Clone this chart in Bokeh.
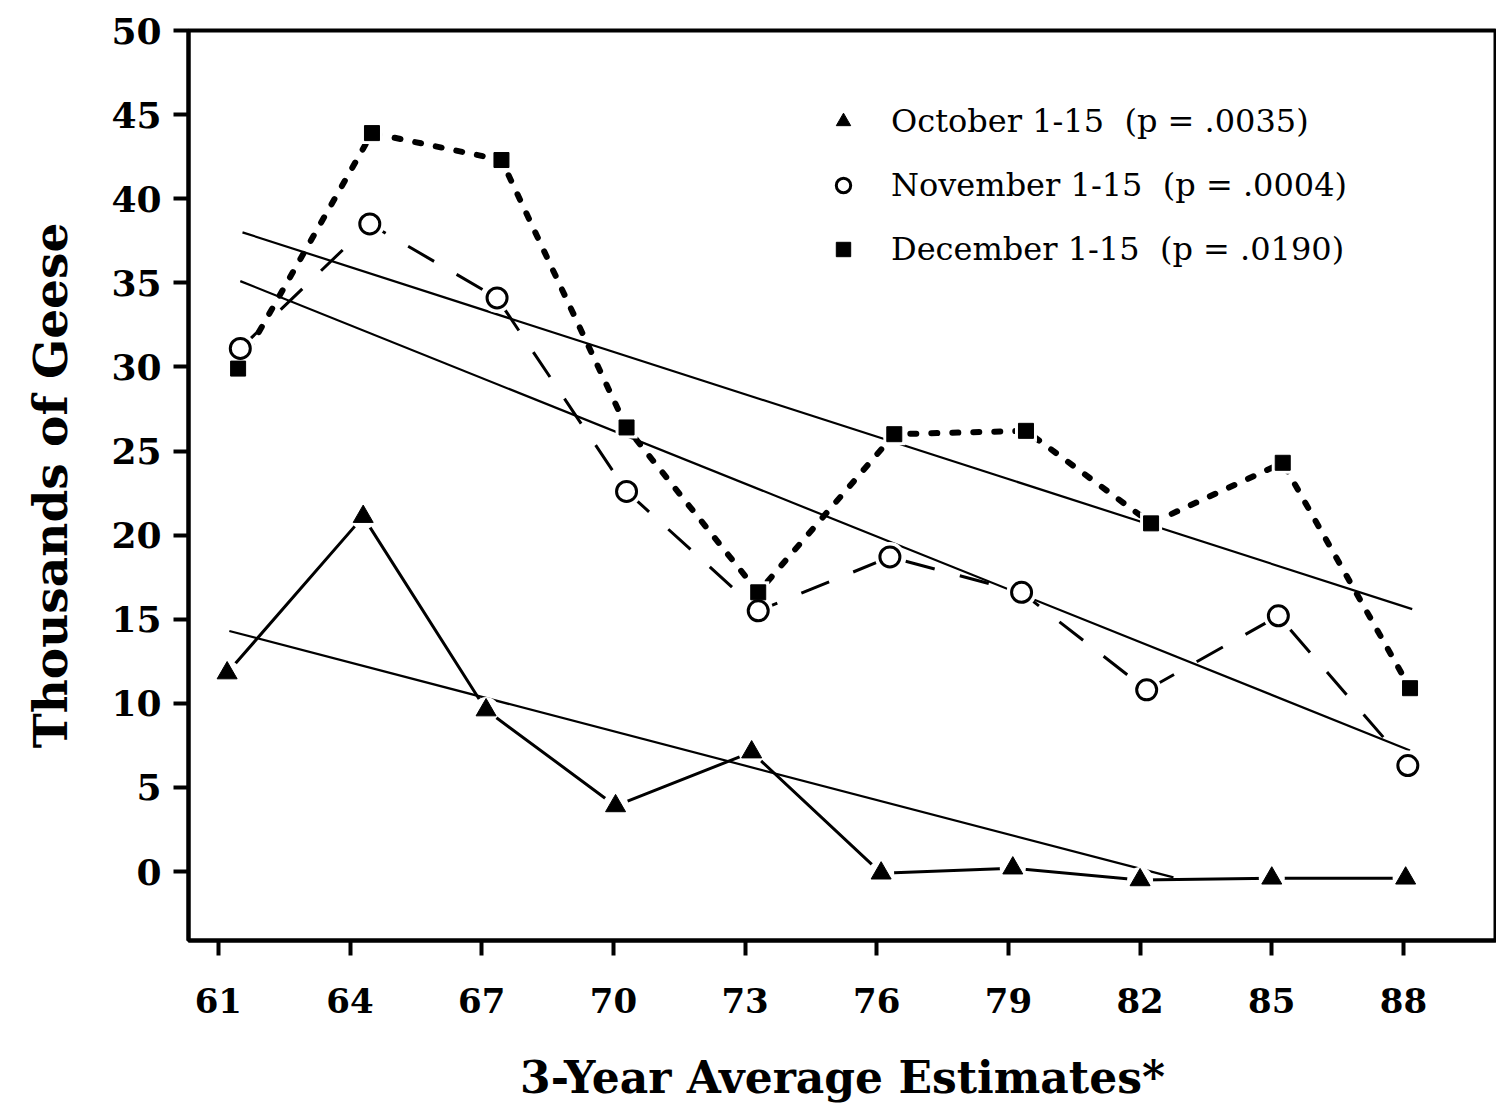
from bokeh.plotting import figure
from bokeh.models import Range1d, FixedTicker, Legend, LegendItem
from bokeh.embed import file_html
from bokeh.resources import INLINE

# ---- data ----
year_ticks = [61, 64, 67, 70, 73, 76, 79, 82, 85, 88]
y_ticks = [0, 5, 10, 15, 20, 25, 30, 35, 40, 45, 50]

oct_x = [61.2, 64.3, 67.1, 70.05, 73.15, 76.1, 79.1, 82.0, 85.0, 88.05]
oct_y = [11.8, 21.1, 9.6, 3.9, 7.1, -0.1, 0.2, -0.5, -0.4, -0.4]

nov_x = [61.5, 64.45, 67.35, 70.3, 73.3, 76.3, 79.3, 82.15, 85.15, 88.1]
nov_y = [31.1, 38.5, 34.1, 22.6, 15.5, 18.7, 16.6, 10.8, 15.2, 6.3]

dec_x = [61.45, 64.5, 67.45, 70.3, 73.3, 76.4, 79.4, 82.25, 85.25, 88.15]
dec_y = [29.9, 43.9, 42.3, 26.4, 16.6, 26.0, 26.2, 20.7, 24.3, 10.9]

# regression (trend) lines: end points
oct_trend_x = [61.25, 82.76]
oct_trend_y = [14.3, -0.35]
nov_trend_x = [61.5, 88.15]
nov_trend_y = [35.1, 7.2]
dec_trend_x = [61.55, 88.2]
dec_trend_y = [38.0, 15.6]

labels = ["October 1-15  (p = .0035)",
          "November 1-15  (p = .0004)",
          "December 1-15  (p = .0190)"]

# ---- figure ----
p = figure(width=1496, height=1106, output_backend="svg", toolbar_location=None,
           x_range=Range1d(60.32, 90.12), y_range=Range1d(-4.1, 50),
           min_border_left=188, min_border_right=0, min_border_top=30,
           min_border_bottom=166)
p.background_fill_color = "white"
p.border_fill_color = "white"
p.outline_line_color = "black"
p.outline_line_width = 4
p.xgrid.visible = False
p.ygrid.visible = False

for ax in (p.xaxis[0], p.yaxis[0]):
    ax.axis_line_width = 4
    ax.major_tick_line_width = 4
    ax.major_tick_in = 0
    ax.major_tick_out = 15
    ax.minor_tick_line_color = None
    ax.major_label_text_font = "DejaVu Serif"
    ax.major_label_text_font_style = "bold"
    ax.major_label_text_color = "black"
    ax.axis_label_text_font = "DejaVu Serif"
    ax.axis_label_text_font_style = "bold"
    ax.axis_label_text_color = "black"

p.xaxis.ticker = FixedTicker(ticks=year_ticks)
p.yaxis.ticker = FixedTicker(ticks=y_ticks)
p.xaxis.major_label_text_font_size = "34px"
p.yaxis.major_label_text_font_size = "36px"
p.xaxis.major_label_standoff = 32
p.yaxis.major_label_standoff = 12
p.xaxis.axis_label = "3-Year Average Estimates*"
p.yaxis.axis_label = "Thousands of Geese"
p.xaxis.axis_label_text_font_size = "44px"
p.yaxis.axis_label_text_font_size = "47px"
p.xaxis.axis_label_standoff = 36
p.yaxis.axis_label_standoff = 30

# trend lines
p.line(oct_trend_x, oct_trend_y, line_color="black", line_width=2.2)
p.line(nov_trend_x, nov_trend_y, line_color="black", line_width=2.2)
p.line(dec_trend_x, dec_trend_y, line_color="black", line_width=2.2)

# series lines
p.line(oct_x, oct_y, line_color="black", line_width=3)
p.line(nov_x, nov_y, line_color="black", line_width=3, line_dash="30 26")
p.line(dec_x, dec_y, line_color="black", line_width=6, line_dash="6 15",
       line_cap="round")

# white halos so the lines stop short of the markers
p.scatter(oct_x, oct_y, marker="circle", size=26, fill_color="white", line_color=None)
p.scatter(nov_x, nov_y, marker="circle", size=30, fill_color="white", line_color=None)
p.scatter(dec_x, dec_y, marker="square", size=22, fill_color="white", line_color=None)

r_oct = p.scatter(oct_x, oct_y, marker="triangle", size=20, fill_color="black",
                  line_color="black", line_width=1)
r_nov = p.scatter(nov_x, nov_y, marker="circle", size=20, fill_color="white",
                  line_color="black", line_width=3)
r_dec = p.scatter(dec_x, dec_y, marker="square", size=15, fill_color="black",
                  line_color="black", line_width=1)

legend = Legend(items=[LegendItem(label=labels[0], renderers=[r_oct]),
                       LegendItem(label=labels[1], renderers=[r_nov]),
                       LegendItem(label=labels[2], renderers=[r_dec])],
                location=(637, 671))
legend.border_line_color = None
legend.background_fill_alpha = 0
legend.label_text_font = "DejaVu Serif"
legend.label_text_font_size = "32px"
legend.label_text_color = "black"
legend.glyph_width = 36
legend.glyph_height = 40
legend.label_height = 40
legend.spacing = 24
legend.padding = 0
legend.label_standoff = 30
p.add_layout(legend)

open("out.html", "w").write(file_html(p, INLINE))
